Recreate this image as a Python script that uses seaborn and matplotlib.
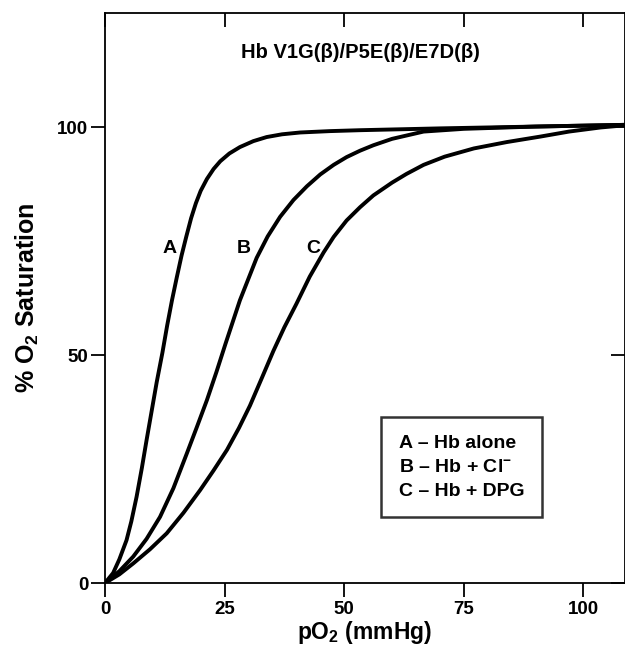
import pandas as pd
import matplotlib
matplotlib.use("Agg")
import matplotlib.pyplot as plt
from matplotlib.lines import Line2D
import seaborn as sns

# values
a_po2 = [0, 1.7, 3.0, 4.5, 5.5, 6.6, 7.7, 8.7, 9.8, 10.8, 12.0, 13.0, 14.0, 15.0, 16.0, 17.0,
         18.0, 19.0, 20.0, 21.3, 22.7, 24.1, 26.0, 28.2, 31.0, 33.8, 37.0, 40.8, 47.0, 53.3,
         70.0, 90.0, 110.0]
a_sat = [0, 2.2, 5.2, 9.4, 13.5, 18.9, 25.2, 31.4, 38.0, 44.0, 50.5, 56.5, 62.0, 67.0, 71.8, 76.0,
         80.0, 83.3, 86.0, 88.6, 90.8, 92.5, 94.2, 95.6, 96.9, 97.8, 98.4, 98.8, 99.1, 99.3,
         99.7, 100.1, 100.5]

b_po2 = [0, 3.0, 5.9, 8.7, 11.5, 14.3, 17.1, 19.2, 21.3, 23.3, 25.2, 28.2, 31.7, 34.0, 36.6,
         39.4, 42.2, 45.0, 47.8, 50.5, 53.3, 56.1, 60.0, 66.6, 75.0, 90.0, 110.0]
b_sat = [0, 2.6, 5.8, 9.7, 14.5, 20.8, 28.4, 34.2, 40.1, 46.3, 52.5, 62.0, 71.3, 76.0, 80.3,
         84.0, 87.0, 89.6, 91.7, 93.4, 94.8, 96.0, 97.4, 99.0, 99.6, 100.1, 100.5]

c_po2 = [0, 3.0, 5.9, 9.4, 12.9, 16.4, 19.9, 22.7, 25.5, 28.0, 30.3, 32.8, 35.2, 37.5, 40.0,
         42.8, 45.7, 47.8, 50.5, 53.3, 56.1, 60.0, 63.0, 66.6, 71.0, 77.1, 84.0, 91.0, 97.0,
         103.6, 110.0]
c_sat = [0, 1.9, 4.3, 7.4, 10.9, 15.4, 20.4, 24.7, 29.2, 34.0, 38.9, 45.0, 50.9, 56.1, 61.2,
         67.2, 72.5, 75.9, 79.5, 82.4, 85.0, 87.8, 89.7, 91.7, 93.5, 95.3, 96.7, 97.9, 99.0,
         99.9, 100.5]

curve_names = ["A", "B", "C"]
legend_labels = ["A \u2013 Hb alone", "B \u2013 Hb + Cl$^{-}$", "C \u2013 Hb + DPG"]
title = "Hb V1G(\u03b2)/P5E(\u03b2)/E7D(\u03b2)"

df = pd.concat([
    pd.DataFrame({"pO2": a_po2, "sat": a_sat, "curve": "A"}),
    pd.DataFrame({"pO2": b_po2, "sat": b_sat, "curve": "B"}),
    pd.DataFrame({"pO2": c_po2, "sat": c_sat, "curve": "C"}),
])

sns.set_style("ticks")
plt.rcParams["font.family"] = ["Liberation Sans", "DejaVu Sans"]
plt.rcParams["font.weight"] = "bold"
plt.rcParams["text.color"] = "black"
plt.rcParams["axes.labelcolor"] = "black"
plt.rcParams["xtick.color"] = "black"
plt.rcParams["ytick.color"] = "black"
plt.rcParams["mathtext.fontset"] = "custom"
plt.rcParams["mathtext.rm"] = "Liberation Sans:bold"
plt.rcParams["mathtext.it"] = "Liberation Sans:bold"
plt.rcParams["mathtext.bf"] = "Liberation Sans:bold"
plt.rcParams["mathtext.default"] = "rm"

fig = plt.figure(figsize=(6.25, 6.5), dpi=100)
ax = fig.add_axes([0.168, 0.103, 0.832, 0.877])

sns.lineplot(data=df, x="pO2", y="sat", hue="curve", palette=["black"] * 3,
             sort=False, estimator=None, legend=False, linewidth=2.8, ax=ax)

ax.set_xlim(0, 108.7)
ax.set_ylim(0, 125)
ax.set_xticks([0, 25, 50, 75, 100])
ax.set_yticks([0, 50, 100])

for s in ax.spines.values():
    s.set_linewidth(1.3)
    s.set_color("black")

ax.tick_params(axis="both", labelsize=13.5, width=1.3, length=10, color="black", labelcolor="black")
ax.tick_params(axis="x", top=True, direction="out", pad=3)
ax.tick_params(axis="y", right=True, direction="out", pad=2)
for t in ax.xaxis.get_ticklines()[1::2]:
    t.set_marker(3)  # inward on top
for t in ax.yaxis.get_ticklines()[1::2]:
    t.set_marker(0)  # inward on right
for lbl in ax.get_xticklabels() + ax.get_yticklabels():
    lbl.set_fontweight("bold")

ax.set_xlabel("pO$_2$ (mmHg)", fontsize=16.5, fontweight="bold", labelpad=1)
ax.set_ylabel("% O$_2$ Saturation", fontsize=18, fontweight="bold", labelpad=12)

ax.text(53.3, 116.3, title, ha="center", va="center", fontsize=14.5, fontweight="bold")

for name, x in zip(curve_names, [13.5, 28.9, 43.6]):
    ax.text(x, 73.3, name, ha="center", va="center", fontsize=14, fontweight="bold")

handles = [Line2D([], [], linestyle="none") for _ in legend_labels]
leg = ax.legend(handles, legend_labels, loc="upper left", bbox_to_anchor=(0.531, 0.291),
                handlelength=0, handletextpad=0, borderpad=0.9, labelspacing=0.32,
                fancybox=False, frameon=True, edgecolor="black",
                prop={"size": 14, "weight": "bold"}, borderaxespad=0)
leg.get_frame().set_linewidth(1.8)

fig.savefig("out.png", dpi=100)
